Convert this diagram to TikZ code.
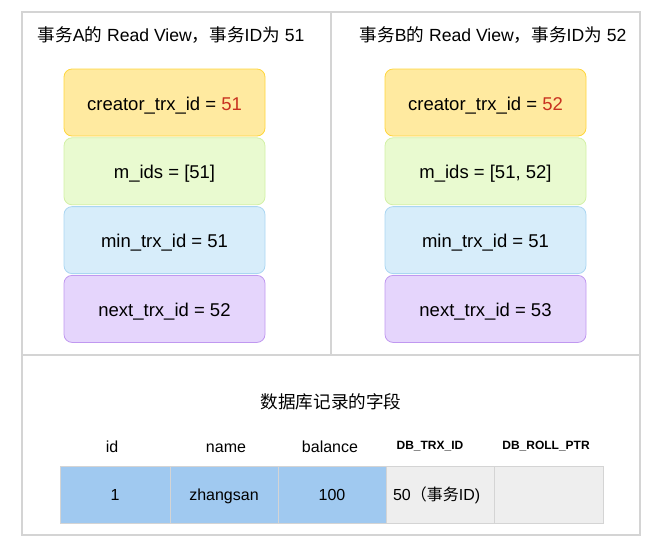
\documentclass[tikz,border=0pt]{standalone}
\usepackage{fontspec}
\setmainfont{Liberation Sans}
\newfontfamily\cjk{Noto Sans CJK SC}
\usepackage{xcolor}
\usetikzlibrary{positioning}
\definecolor{framec}{RGB}{212,212,212}
\definecolor{yelf}{RGB}{255,234,160}
\definecolor{yeld}{RGB}{255,214,60}
\definecolor{grnf}{RGB}{233,250,208}
\definecolor{grnd}{RGB}{210,240,165}
\definecolor{bluf}{RGB}{215,237,250}
\definecolor{blud}{RGB}{170,214,242}
\definecolor{purf}{RGB}{229,213,252}
\definecolor{purd}{RGB}{192,152,240}
\definecolor{redc}{RGB}{200,50,32}
\definecolor{cellb}{RGB}{160,201,240}
\definecolor{cellg}{RGB}{238,238,238}
\definecolor{celld}{RGB}{212,212,212}
\newcommand{\zh}[1]{{\cjk #1}}

\begin{document}
\begin{tikzpicture}[x=1pt,y=-1pt,
  panel/.style={draw=framec,line width=1.3pt},
  field/.style={rounded corners=8pt,line width=0.8pt,minimum width=201pt,minimum height=67pt,inner sep=0pt,text height=16.5pt,text depth=1.5pt,font=\fontsize{18.5}{22}\selectfont},
  title/.style={font=\fontsize{17.6}{21}\selectfont},
  colhead/.style={text height=12pt,text depth=3pt,font=\fontsize{16}{19}\selectfont},
  syshead/.style={font=\bfseries\fontsize{12}{14}\selectfont},
  cell/.style={draw=celld,line width=0.8pt,minimum width=108pt,minimum height=57pt,inner sep=0pt,text height=14pt,text depth=3pt,font=\fontsize{16}{19}\selectfont}]
\useasboundingbox (0,0) rectangle (661,550);
% three panels
\draw[panel] (22,12) rectangle (331,355);
\draw[panel] (331,12) rectangle (640,355);
\draw[panel] (22,355) rectangle (640,535);
% read view of A
\node[title] (ta) at (171,35) {\zh{事务}A\zh{的} Read View\zh{，事务}ID\zh{为} 51};
\node[field,fill=yelf,draw=yeld] (a1) at (164.5,102.5) {creator\_trx\_id = \textcolor{redc}{51}};
\node[field,fill=grnf,draw=grnd,below=1pt of a1] (a2) {m\_ids = [51]};
\node[field,fill=bluf,draw=blud,below=1pt of a2] (a3) {min\_trx\_id = 51};
\node[field,fill=purf,draw=purd,below=1pt of a3] (a4) {next\_trx\_id = 52};
% read view of B
\node[title] (tb) at (493,35) {\zh{事务}B\zh{的} Read View\zh{，事务}ID\zh{为} 52};
\node[field,fill=yelf,draw=yeld] (b1) at (485.5,102.5) {creator\_trx\_id = \textcolor{redc}{52}};
\node[field,fill=grnf,draw=grnd,below=1pt of b1] (b2) {m\_ids = [51, 52]};
\node[field,fill=bluf,draw=blud,below=1pt of b2] (b3) {min\_trx\_id = 51};
\node[field,fill=purf,draw=purd,below=1pt of b3] (b4) {next\_trx\_id = 53};
% record row
\node[title] (tr) at (331,402) {\zh{数据库记录的字段}};
\node[colhead] (h1) at (112,448) {id};
\node[colhead] (h2) at (226,448) {name};
\node[colhead] (h3) at (330,448) {balance};
\node[syshead] (h4) at (430,446) {DB\_TRX\_ID};
\node[syshead] (h5) at (546,446) {DB\_ROLL\_PTR};
\node[cell,fill=cellb,minimum width=110pt] (c1) at (115,494.5) {1};
\node[cell,fill=cellb] (c2) at (224,494.5) {zhangsan};
\node[cell,fill=cellb] (c3) at (332,494.5) {100};
\node[cell,fill=cellg] (c4) at (440,494.5) {\makebox[100pt][l]{\hspace{3pt}50\zh{（事务}ID)}};
\node[cell,fill=cellg,minimum width=109pt] (c5) at (548.5,494.5) {};
\end{tikzpicture}
\end{document}
